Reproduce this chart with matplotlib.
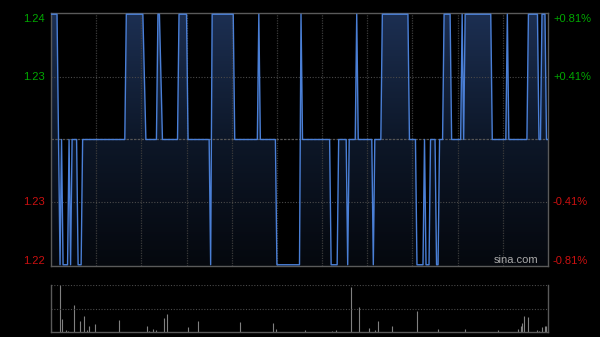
import numpy as np
import matplotlib
matplotlib.use('Agg')
import matplotlib.pyplot as plt
from matplotlib.colors import LinearSegmentedColormap

plt.rcParams['font.family'] = ['Liberation Sans', 'DejaVu Sans']

# price path: minute index since open -> price (HK session, 330 minutes)
minutes = [0, 4, 6, 7, 8, 11, 12, 13, 14, 17, 18, 20, 21, 49, 50, 61, 63, 70, 71, 72, 74,
           84, 85, 90, 91, 105, 106, 107, 121, 122, 137, 138, 139, 149, 150, 165, 166, 167,
           185, 186, 190, 191, 196, 197, 198, 202, 203, 204, 213, 214, 215, 219, 220, 237, 238,
           242, 243, 247, 248, 249, 251, 252, 255, 256, 257, 258, 260, 261, 265, 266, 272, 273,
           274, 275, 292, 293, 302, 303, 304, 316, 317, 323, 324, 325, 326, 328, 329, 330]
prices = [1.24, 1.24, 1.22, 1.23, 1.22, 1.22, 1.23, 1.22, 1.23, 1.23, 1.22, 1.22, 1.23, 1.23, 1.24, 1.24, 1.23, 1.23, 1.24, 1.24, 1.23,
          1.23, 1.24, 1.24, 1.23, 1.23, 1.22, 1.24, 1.24, 1.23, 1.23, 1.24, 1.23, 1.23, 1.22, 1.22, 1.24, 1.23,
          1.23, 1.22, 1.22, 1.23, 1.23, 1.22, 1.23, 1.23, 1.24, 1.23, 1.23, 1.22, 1.23, 1.23, 1.24, 1.24, 1.23,
          1.23, 1.22, 1.22, 1.23, 1.22, 1.22, 1.23, 1.23, 1.22, 1.22, 1.23, 1.23, 1.24, 1.24, 1.23, 1.23, 1.24,
          1.23, 1.24, 1.24, 1.23, 1.23, 1.24, 1.23, 1.23, 1.24, 1.24, 1.23, 1.23, 1.24, 1.24, 1.23, 1.23]

prev_close = 1.23

# volume bars (relative units)
vol_min = [0, 6, 7, 10, 11, 15, 19, 22, 24, 25, 29, 45, 64, 65, 68, 70, 75, 77, 91, 98, 126, 148, 150,
           169, 187, 190, 200, 205, 212, 216, 218, 227, 244, 258, 276, 298, 311, 313, 314, 315, 318,
           324, 325, 327, 329, 330]
vol = [9, 100, 27, 5, 3, 57, 23, 34, 4, 13, 16, 25, 13, 2, 7, 5, 29, 39, 11, 23, 21, 19, 6,
       5, 3, 5, 96, 54, 9, 5, 23, 13, 45, 7, 7, 5, 7, 13, 19, 34, 31,
       4, 2, 11, 13, 13]

left_ticks = [1.24, 1.235, 1.225, 1.22]
left_labels = ['1.24', '1.23', '1.23', '1.22']
right_labels = ['+0.81%', '+0.41%', '-0.41%', '-0.81%']
tick_colors = ['#00a800', '#00a800', '#cc1010', '#cc1010']
# the outer labels sit a few pixels inside the frame
label_shift = [-5, 0, 0, 4]

fig = plt.figure(figsize=(6, 3.37), dpi=100, facecolor='black')
ax = fig.add_axes([51/600, 1-266/337, 497/600, 253/337])
axv = fig.add_axes([51/600, 1-332/337, 497/600, 47/337])

ax.set_facecolor('black')
ax.set_xlim(0, 330)
ax.set_ylim(1.2199, 1.2401)

# gradient fill under the line
poly = ax.fill_between(minutes, prices, 1.2199, color='none')
cmap = LinearSegmentedColormap.from_list('fillgrad', ['#05080e', '#0d1728', '#1c2f52'])
grad = np.linspace(0, 1, 256).reshape(-1, 1)
img = ax.imshow(grad, cmap=cmap, aspect='auto', origin='lower',
                extent=[0, 330, 1.2199, 1.2401], zorder=1)
img.set_clip_path(poly.get_paths()[0], transform=ax.transData)

# grid
for t in range(30, 330, 30):
    ax.axvline(t, color='#3a3a3a', lw=0.9, ls=(0, (1, 1)), zorder=2)
for yv in [1.225, 1.235]:
    ax.axhline(yv, color='#4a4a4a', lw=0.8, ls=(0, (1, 1.5)), zorder=2)
ax.axhline(prev_close, color='#555555', lw=0.9, ls=(0, (2, 1)), zorder=2)

ax.plot(minutes, prices, color='#4a7fd6', lw=1.0, zorder=3)

for s in ax.spines.values():
    s.set_color('#5a5a5a')
    s.set_linewidth(1.0)
ax.set_xticks([])
ax.set_yticks([])

for yv, lab, rlab, c, dy in zip(left_ticks, left_labels, right_labels, tick_colors, label_shift):
    ax.annotate(lab, (-0.012, yv), xycoords=ax.get_yaxis_transform(), xytext=(0, dy),
                textcoords='offset pixels', ha='right', va='center', color=c, fontsize=8)
    ax.annotate(rlab, (1.01, yv), xycoords=ax.get_yaxis_transform(), xytext=(0, dy),
                textcoords='offset pixels', ha='left', va='center', color=c, fontsize=8)

ax.text(0.98, 0.005, 'sina.com', transform=ax.transAxes, ha='right', va='bottom',
        color='#aaaaaa', fontsize=8, zorder=4)

# volume panel
axv.set_facecolor('black')
axv.set_xlim(0, 331)
axv.set_ylim(0, 100)
axv.vlines(vol_min, 0, vol, color='#808080', lw=0.8)
axv.axhline(50, color='#4a4a4a', lw=0.8, ls=(0, (1, 1.5)))
axv.axhline(100, color='#4a4a4a', lw=0.8, ls=(0, (1, 1.5)))
axv.spines['top'].set_visible(False)
for k in ['left', 'right', 'bottom']:
    axv.spines[k].set_color('#5a5a5a')
    axv.spines[k].set_linewidth(1.0)
axv.set_xticks([])
axv.set_yticks([])

fig.savefig('out.png', dpi=100, facecolor='black')
